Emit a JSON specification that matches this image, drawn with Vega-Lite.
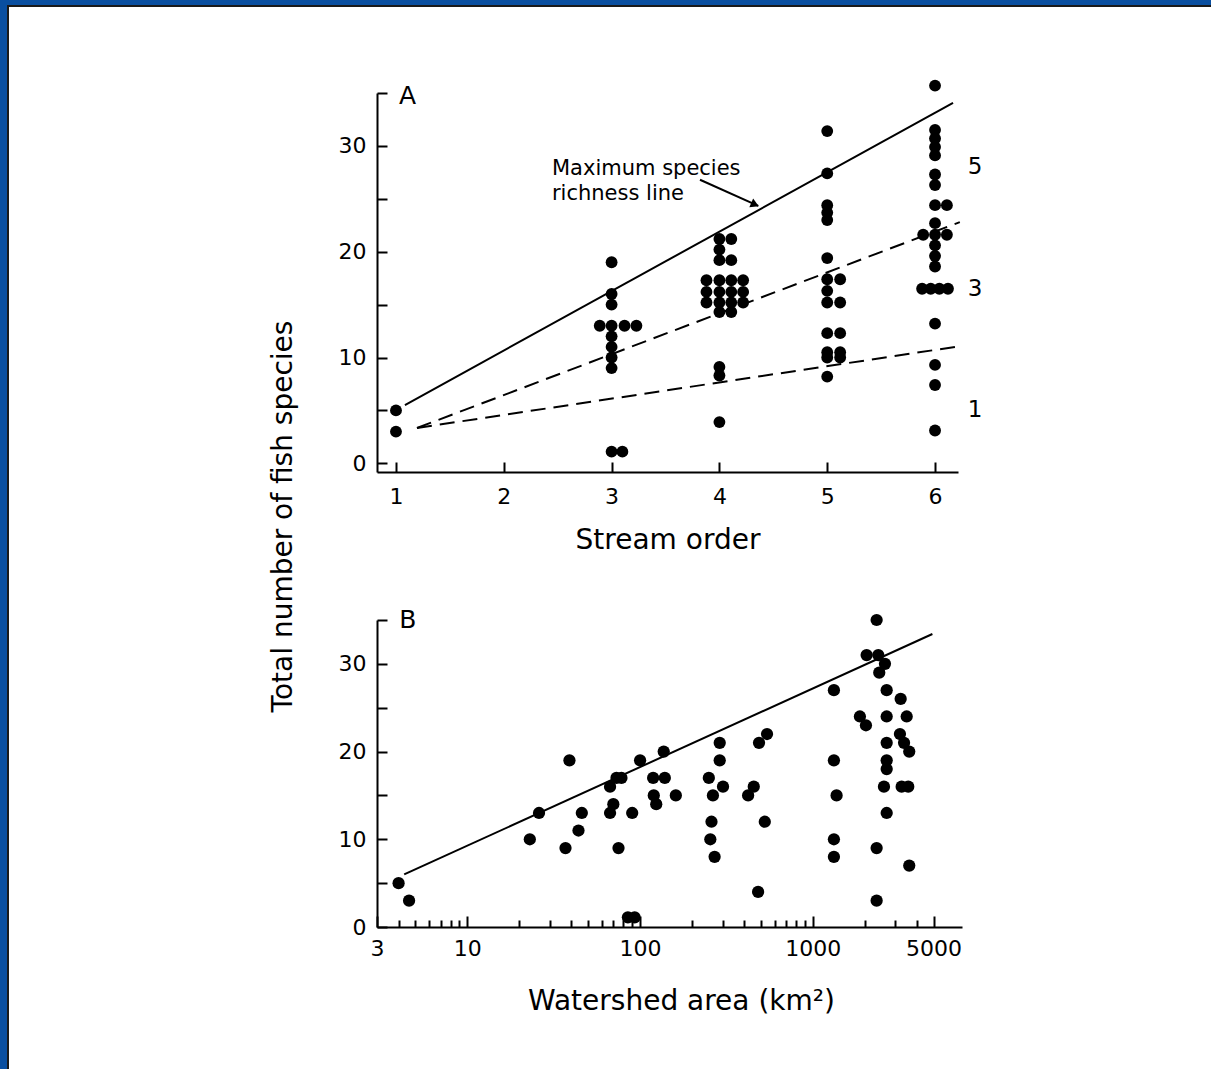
{
  "$schema": "https://vega.github.io/schema/vega-lite/v6.json",
  "width": 1203,
  "height": 1063,
  "autosize": {"type": "none"},
  "padding": {"left": 8, "top": 6, "right": 0, "bottom": 0},
  "background": "#0a4fa0",
  "config": {
    "font": "DejaVu Sans",
    "view": {"fill": "#ffffff", "stroke": "#1a1a1a", "strokeWidth": 2, "strokeDash": [1203, 2266, 1063]},
    "axis": {
      "grid": false,
      "domainColor": "#000000",
      "domainWidth": 2,
      "tickColor": "#000000",
      "tickWidth": 2,
      "labelColor": "#000000",
      "labelFont": "DejaVu Sans",
      "labelFontSize": 22,
      "labelFlush": false,
      "labelOverlap": false,
      "labelBound": false,
      "titleColor": "#000000",
      "titleFont": "DejaVu Sans",
      "titleFontSize": 28,
      "titleFontWeight": "normal"
    }
  },
  "datasets": {
    "ptsA": [
      {"x": 1.0, "y": 5}, {"x": 1.0, "y": 3},
      {"x": 3.0, "y": 19}, {"x": 3.0, "y": 16}, {"x": 3.0, "y": 15},
      {"x": 2.89, "y": 13}, {"x": 3.0, "y": 13}, {"x": 3.12, "y": 13}, {"x": 3.23, "y": 13},
      {"x": 3.0, "y": 12}, {"x": 3.0, "y": 11}, {"x": 3.0, "y": 10}, {"x": 3.0, "y": 9},
      {"x": 3.0, "y": 1.1}, {"x": 3.1, "y": 1.1},
      {"x": 4.0, "y": 21.2}, {"x": 4.11, "y": 21.2}, {"x": 4.0, "y": 20.2}, {"x": 4.0, "y": 19.2}, {"x": 4.11, "y": 19.2},
      {"x": 3.88, "y": 17.3}, {"x": 4.0, "y": 17.3}, {"x": 4.11, "y": 17.3}, {"x": 4.22, "y": 17.3},
      {"x": 3.88, "y": 16.2}, {"x": 4.0, "y": 16.2}, {"x": 4.11, "y": 16.2}, {"x": 4.22, "y": 16.2},
      {"x": 3.88, "y": 15.2}, {"x": 4.0, "y": 15.2}, {"x": 4.11, "y": 15.2}, {"x": 4.22, "y": 15.2},
      {"x": 4.0, "y": 14.3}, {"x": 4.11, "y": 14.3},
      {"x": 4.0, "y": 9.1}, {"x": 4.0, "y": 8.3}, {"x": 4.0, "y": 3.9},
      {"x": 5.0, "y": 31.4}, {"x": 5.0, "y": 27.4}, {"x": 5.0, "y": 24.4}, {"x": 5.0, "y": 23.7}, {"x": 5.0, "y": 23.0},
      {"x": 5.0, "y": 19.4},
      {"x": 5.0, "y": 17.4}, {"x": 5.12, "y": 17.4}, {"x": 5.0, "y": 16.3}, {"x": 5.0, "y": 15.2}, {"x": 5.12, "y": 15.2},
      {"x": 5.0, "y": 12.3}, {"x": 5.12, "y": 12.3},
      {"x": 5.0, "y": 10.5}, {"x": 5.12, "y": 10.5}, {"x": 5.0, "y": 10.0}, {"x": 5.12, "y": 10.0},
      {"x": 5.0, "y": 8.2},
      {"x": 6.0, "y": 35.7}, {"x": 6.0, "y": 31.5}, {"x": 6.0, "y": 30.7}, {"x": 6.0, "y": 29.9}, {"x": 6.0, "y": 29.1},
      {"x": 6.0, "y": 27.3}, {"x": 6.0, "y": 26.3}, {"x": 6.0, "y": 24.4}, {"x": 6.11, "y": 24.4},
      {"x": 6.0, "y": 22.7}, {"x": 5.89, "y": 21.6}, {"x": 6.0, "y": 21.6}, {"x": 6.11, "y": 21.6},
      {"x": 6.0, "y": 20.6}, {"x": 6.0, "y": 19.6}, {"x": 6.0, "y": 18.6},
      {"x": 5.88, "y": 16.5}, {"x": 5.96, "y": 16.5}, {"x": 6.04, "y": 16.5}, {"x": 6.12, "y": 16.5},
      {"x": 6.0, "y": 13.2}, {"x": 6.0, "y": 9.3}, {"x": 6.0, "y": 7.4}, {"x": 6.0, "y": 3.1}
    ],
    "linesA": [
      {"line": "max", "x": 1.083, "y": 5.51}, {"line": "max", "x": 6.167, "y": 34.07},
      {"line": "three", "x": 1.195, "y": 3.34}, {"line": "three", "x": 6.23, "y": 22.8},
      {"line": "one", "x": 1.195, "y": 3.34}, {"line": "one", "x": 6.25, "y": 11.1}
    ],
    "arrowA": [
      {"x": 3.82, "y": 26.8}, {"x": 4.36, "y": 24.33}
    ],
    "headA": [
      {"x": 4.33, "y": 24.45}
    ],
    "sideA": [
      {"x": 6.371, "y": 28.0, "t": "5"}, {"x": 6.371, "y": 16.5, "t": "3"}, {"x": 6.371, "y": 5.04, "t": "1"}
    ],
    "panelA": [{"x": 1.028, "y": 34.7, "t": "A"}],
    "noteA": [
      {"x": 2.447, "y": 27.8, "t": "Maximum species"},
      {"x": 2.447, "y": 25.45, "t": "richness line"}
    ],
    "ptsB": [
      {"area": 4.0, "species": 5}, {"area": 4.6, "species": 3},
      {"area": 23, "species": 10}, {"area": 26, "species": 13}, {"area": 39, "species": 19}, {"area": 37, "species": 9},
      {"area": 44, "species": 11}, {"area": 46, "species": 13}, {"area": 67, "species": 16}, {"area": 73, "species": 17},
      {"area": 78, "species": 17}, {"area": 70, "species": 14}, {"area": 67, "species": 13}, {"area": 75, "species": 9},
      {"area": 85, "species": 1.1}, {"area": 93, "species": 1.1}, {"area": 90, "species": 13}, {"area": 100, "species": 19},
      {"area": 119, "species": 17}, {"area": 139, "species": 17}, {"area": 120, "species": 15}, {"area": 124, "species": 14},
      {"area": 137, "species": 20}, {"area": 161, "species": 15},
      {"area": 289, "species": 21}, {"area": 289, "species": 19}, {"area": 250, "species": 17}, {"area": 302, "species": 16},
      {"area": 264, "species": 15}, {"area": 259, "species": 12}, {"area": 255, "species": 10}, {"area": 270, "species": 8},
      {"area": 488, "species": 21}, {"area": 543, "species": 22}, {"area": 422, "species": 15}, {"area": 455, "species": 16},
      {"area": 527, "species": 12}, {"area": 482, "species": 4},
      {"area": 1324, "species": 27}, {"area": 1324, "species": 19}, {"area": 1372, "species": 15}, {"area": 1324, "species": 10},
      {"area": 1324, "species": 8},
      {"area": 1872, "species": 24}, {"area": 2029, "species": 23}, {"area": 2340, "species": 35}, {"area": 2048, "species": 31},
      {"area": 2392, "species": 31}, {"area": 2614, "species": 30}, {"area": 2423, "species": 29},
      {"area": 2675, "species": 27}, {"area": 2675, "species": 24}, {"area": 2675, "species": 21}, {"area": 2675, "species": 19},
      {"area": 2675, "species": 18}, {"area": 2580, "species": 16}, {"area": 2675, "species": 13}, {"area": 2340, "species": 9},
      {"area": 2340, "species": 3},
      {"area": 3223, "species": 26}, {"area": 3493, "species": 24}, {"area": 3192, "species": 22}, {"area": 3372, "species": 21},
      {"area": 3614, "species": 20}, {"area": 3266, "species": 16}, {"area": 3566, "species": 16}, {"area": 3614, "species": 7}
    ],
    "lineB": [
      {"area": 4.31, "species": 6.0}, {"area": 4920, "species": 33.4}
    ],
    "panelB": [{"area": 4.04, "species": 35.0, "t": "B"}]
  },
  "layer": [
    {
      "layer": [
        {
          "data": {"name": "linesA"},
          "transform": [{"filter": "datum.line == 'max'"}],
          "mark": {"type": "line", "color": "#000000", "strokeWidth": 2},
          "encoding": {
            "x": {
              "field": "x", "type": "quantitative",
              "scale": {"domain": [0.824, 6.213], "range": [369, 950], "nice": false, "zero": false},
              "axis": {
                "orient": "bottom", "offset": -597, "values": [1, 2, 3, 4, 5, 6], "format": "d",
                "tickSize": -10, "labelPadding": 24,
                "title": "Stream order", "titleY": 68, "titleBaseline": "middle"
              }
            },
            "y": {
              "field": "y", "type": "quantitative",
              "scale": {"domain": [-0.82, 35], "range": [466, 87], "nice": false, "zero": false},
              "axis": {
                "orient": "left", "offset": -369, "values": [0, 5, 10, 15, 20, 25, 30, 35],
                "tickSize": -10, "labelPadding": 21,
                "labelExpr": "datum.value % 10 === 0 && datum.value < 35 ? datum.label : ''",
                "title": "Total number of fish species",
                "titleX": -94, "titleY": 510, "titleAngle": 270, "titleAlign": "center", "titleBaseline": "middle"
              }
            }
          }
        },
        {
          "data": {"name": "linesA"},
          "transform": [{"filter": "datum.line != 'max'"}],
          "mark": {"type": "line", "color": "#000000", "strokeWidth": 2, "strokeDash": [15, 8]},
          "encoding": {
            "x": {"field": "x", "type": "quantitative", "scale": {"domain": [0.824, 6.213], "range": [369, 950], "nice": false, "zero": false}},
            "y": {"field": "y", "type": "quantitative", "scale": {"domain": [-0.82, 35], "range": [466, 87], "nice": false, "zero": false}},
            "detail": {"field": "line", "type": "nominal"}
          }
        },
        {
          "data": {"name": "arrowA"},
          "mark": {"type": "line", "color": "#000000", "strokeWidth": 2},
          "encoding": {
            "x": {"field": "x", "type": "quantitative"},
            "y": {"field": "y", "type": "quantitative"}
          }
        },
        {
          "data": {"name": "headA"},
          "mark": {"type": "point", "shape": "triangle-right", "angle": 24, "size": 90, "filled": true, "color": "#000000", "opacity": 1},
          "encoding": {
            "x": {"field": "x", "type": "quantitative"},
            "y": {"field": "y", "type": "quantitative"}
          }
        },
        {
          "data": {"name": "ptsA"},
          "mark": {"type": "circle", "size": 140, "color": "#000000", "opacity": 1},
          "encoding": {
            "x": {"field": "x", "type": "quantitative"},
            "y": {"field": "y", "type": "quantitative"}
          }
        },
        {
          "data": {"name": "sideA"},
          "mark": {"type": "text", "fontSize": 23, "align": "center", "baseline": "middle", "color": "#000000"},
          "encoding": {
            "x": {"field": "x", "type": "quantitative"},
            "y": {"field": "y", "type": "quantitative"},
            "text": {"field": "t"}
          }
        },
        {
          "data": {"name": "panelA"},
          "mark": {"type": "text", "fontSize": 25, "align": "left", "baseline": "middle", "color": "#000000"},
          "encoding": {
            "x": {"field": "x", "type": "quantitative"},
            "y": {"field": "y", "type": "quantitative"},
            "text": {"field": "t"}
          }
        },
        {
          "data": {"name": "noteA"},
          "mark": {"type": "text", "fontSize": 21, "align": "left", "baseline": "middle", "color": "#000000"},
          "encoding": {
            "x": {"field": "x", "type": "quantitative"},
            "y": {"field": "y", "type": "quantitative"},
            "text": {"field": "t"}
          }
        }
      ]
    },
    {
      "layer": [
        {
          "data": {"name": "lineB"},
          "mark": {"type": "line", "color": "#000000", "strokeWidth": 2},
          "encoding": {
            "x": {
              "field": "area", "type": "quantitative",
              "scale": {"type": "log", "domain": [3, 7300], "range": [369, 954], "nice": false},
              "axis": {
                "orient": "bottom", "offset": -142,
                "values": [3, 4, 5, 6, 7, 8, 9, 10, 20, 30, 40, 50, 60, 70, 80, 90, 100, 200, 300, 400, 500, 600, 700, 800, 900, 1000, 2000, 3000, 4000, 5000],
                "tickSize": {"condition": {"test": "indexof([3, 10, 100, 1000, 5000], datum.value) >= 0", "value": -11}, "value": -7},
                "labelPadding": 22,
                "labelExpr": "indexof([3, 10, 100, 1000, 5000], datum.value) >= 0 ? format(datum.value, 'd') : ''",
                "title": "Watershed area (km²)", "titleX": 673, "titleY": 74, "titleBaseline": "middle"
              }
            },
            "y": {
              "field": "species", "type": "quantitative",
              "scale": {"domain": [0, 35], "range": [921, 614], "nice": false, "zero": false},
              "axis": {
                "orient": "left", "offset": -369, "values": [0, 5, 10, 15, 20, 25, 30, 35],
                "tickSize": -10, "labelPadding": 21,
                "labelExpr": "datum.value % 10 === 0 && datum.value < 35 ? datum.label : ''",
                "title": null
              }
            }
          }
        },
        {
          "data": {"name": "ptsB"},
          "mark": {"type": "circle", "size": 150, "color": "#000000", "opacity": 1},
          "encoding": {
            "x": {"field": "area", "type": "quantitative", "scale": {"type": "log", "domain": [3, 7300], "range": [369, 954], "nice": false}},
            "y": {"field": "species", "type": "quantitative", "scale": {"domain": [0, 35], "range": [921, 614], "nice": false, "zero": false}}
          }
        },
        {
          "data": {"name": "panelB"},
          "mark": {"type": "text", "fontSize": 25, "align": "left", "baseline": "middle", "color": "#000000"},
          "encoding": {
            "x": {"field": "area", "type": "quantitative"},
            "y": {"field": "species", "type": "quantitative"},
            "text": {"field": "t"}
          }
        }
      ]
    }
  ],
  "resolve": {
    "scale": {"x": "independent", "y": "independent"},
    "axis": {"x": "independent", "y": "independent"}
  }
}
